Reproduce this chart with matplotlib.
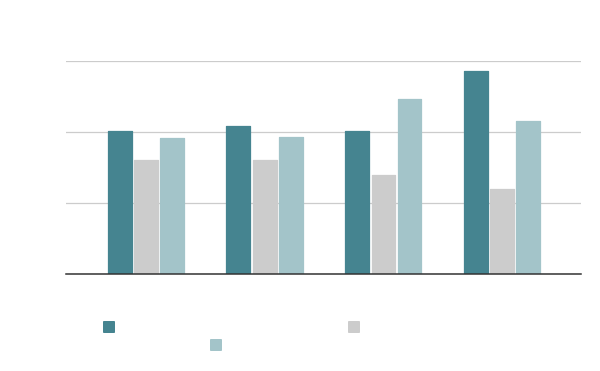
import matplotlib
matplotlib.use("Agg")
import matplotlib.pyplot as plt
from matplotlib.patches import FancyBboxPatch
import numpy as np

categories = ["A", "B", "C", "D"]
series_a = [2.02, 2.09, 2.02, 2.86]
series_b = [1.61, 1.60, 1.40, 1.20]
series_c = [1.91, 1.93, 2.46, 2.16]
colors = ["#458490", "#cccccc", "#a3c4c9"]
yticks = [0, 1, 2, 3]

fig = plt.figure(figsize=(6, 3.71), dpi=100)
ax = fig.add_axes([66/600, 1-274/371, (581-66)/600, (274-61)/371])

x = np.arange(len(categories))
w = 0.200
offs = [-0.222, 0.0, 0.22]
for vals, c, o in zip([series_a, series_b, series_c], colors, offs):
    ax.bar(x + o, vals, width=w, color=c, edgecolor=c, linewidth=0.9,
           joinstyle="round", zorder=3)

ax.set_xlim(-0.674, 3.665)
ax.set_ylim(0, 3)
ax.set_yticks(yticks)
ax.yaxis.grid(True, color="#cccccc", linewidth=0.9)
ax.set_axisbelow(True)
ax.tick_params(left=False, bottom=False, labelleft=False, labelbottom=False)
for s in ["left", "right", "top"]:
    ax.spines[s].set_visible(False)
ax.spines["bottom"].set_color("#333333")
ax.spines["bottom"].set_linewidth(1.1)
ax.spines["bottom"].set_zorder(5)

# legend swatches (no labels)
legend_pos = [(103, 321), (348, 321), (210, 339)]
for (px, py), c in zip(legend_pos, [colors[0], colors[1], colors[2]]):
    p = FancyBboxPatch((px/600, 1-(py+12)/371), 12/600, 12/371,
                       boxstyle="round,pad=0,rounding_size=0.002",
                       transform=fig.transFigure, facecolor=c, edgecolor="none")
    fig.add_artist(p)

fig.savefig("out.png", dpi=100, facecolor="white")
